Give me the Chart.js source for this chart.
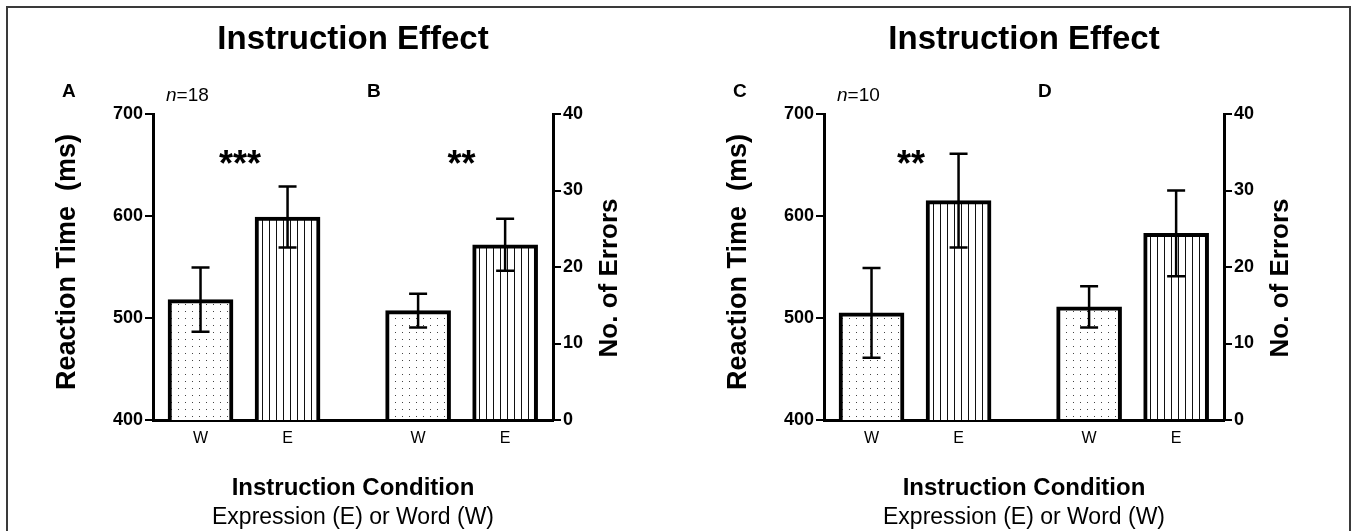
<!DOCTYPE html>
<html>
<head>
<meta charset="utf-8">
<script src="https://cdn.jsdelivr.net/npm/chart.js@4.4.1/dist/chart.umd.min.js"></script>
<style>
  html, body { margin: 0; padding: 0; background: #fff; overflow: hidden; }
  #page { position: relative; width: 1354px; height: 531px; }
  #frame { position: absolute; left: 6px; top: 6px; width: 1345px; height: 600px;
           border: 2px solid #3a3a3a; box-sizing: border-box; }
  canvas { position: absolute; top: 0; }
</style>
</head>
<body>
<div id="page">
  <div id="frame"></div>
  <canvas id="left" width="677" height="531" style="left:0px;width:677px;height:531px"></canvas>
  <canvas id="right" width="677" height="531" style="left:671px;width:677px;height:531px"></canvas>
</div>
<script>
// categories and slot order along the x axis (W/E for RT, then W/E for errors)
const conditions = ['W', 'E', 'W', 'E'];
const slots = [0, 1, 2.5, 3.5];
const rtTicks = [400, 500, 600, 700];
const errTicks = [0, 10, 20, 30, 40];

// n = 18
const rtMean18 = [518, 599];
const rtSem18 = [31.5, 30];
const errMean18 = [14.3, 22.9];
const errSem18 = [2.2, 3.4];

// n = 10
const rtMean10 = [505, 615];
const rtSem10 = [44, 46];
const errMean10 = [14.8, 24.4];
const errSem10 = [2.7, 5.6];

const FONT = '"Liberation Sans", Arial, sans-serif';

// fill patterns: dots for Word, vertical lines for Expression
function dotPattern() {
  const c = document.createElement('canvas');
  c.width = 7; c.height = 7;
  const g = c.getContext('2d');
  g.fillStyle = '#fff'; g.fillRect(0, 0, 7, 7);
  g.fillStyle = '#444'; g.fillRect(3, 3, 1, 1);
  return g.createPattern(c, 'repeat');
}
function stripePattern() {
  const c = document.createElement('canvas');
  c.width = 7; c.height = 4;
  const g = c.getContext('2d');
  g.fillStyle = '#fff'; g.fillRect(0, 0, 7, 4);
  g.fillStyle = '#111'; g.fillRect(3, 0, 1, 4);
  return g.createPattern(c, 'repeat');
}

function makePanel(id, p) {
  const ctx = document.getElementById(id).getContext('2d');
  const fills = [dotPattern(), stripePattern()];

  const decor = {
    id: 'decor',
    afterDatasetsDraw(chart) {
      const c = chart.ctx;
      c.save();
      c.strokeStyle = '#000';
      c.lineWidth = 2.5;
      chart.data.datasets.forEach((ds, d) => {
        const scale = chart.scales[ds.yAxisID];
        chart.getDatasetMeta(d).data.forEach((bar, i) => {
          const hi = scale.getPixelForValue(ds.data[i].y + ds.sem[i]);
          const lo = scale.getPixelForValue(ds.data[i].y - ds.sem[i]);
          c.beginPath();
          c.moveTo(bar.x, hi); c.lineTo(bar.x, lo);
          c.moveTo(bar.x - 9, hi); c.lineTo(bar.x + 9, hi);
          c.moveTo(bar.x - 9, lo); c.lineTo(bar.x + 9, lo);
          c.stroke();
        });
      });
      c.restore();
    },
    afterDraw(chart) {
      const c = chart.ctx;
      const a = chart.chartArea;
      const xs = chart.scales.x;
      const mid = (a.left + a.right) / 2;
      c.save();
      c.fillStyle = '#000';
      c.textAlign = 'center';
      c.textBaseline = 'alphabetic';

      c.font = 'bold 33px ' + FONT;
      c.fillText('Instruction Effect', mid, 49);

      c.font = 'bold 19px ' + FONT;
      c.textAlign = 'left';
      c.fillText(p.letters[0], a.left - 91, 97);
      c.fillText(p.letters[1], a.left + 214, 97);

      c.font = 'italic 19px ' + FONT;
      c.fillText('n', a.left + 13, 101);
      const nw = c.measureText('n').width;
      c.font = '19px ' + FONT;
      c.fillText('=' + p.n, a.left + 13 + nw, 101);

      c.textAlign = 'center';
      c.font = 'bold 36px ' + FONT;
      c.fillText(p.stars[0], (xs.getPixelForValue(slots[0]) + xs.getPixelForValue(slots[1])) / 2 - 4, 176);
      c.fillText(p.stars[1], (xs.getPixelForValue(slots[2]) + xs.getPixelForValue(slots[3])) / 2, 176);

      c.font = 'bold 24px ' + FONT;
      c.fillText('Instruction Condition', mid, 495);
      c.font = '23px ' + FONT;
      c.fillText('Expression (E) or Word (W)', mid, 524);

      c.textBaseline = 'middle';
      c.save();
      c.translate(a.left - 85, 262);
      c.rotate(-Math.PI / 2);
      c.font = 'bold 27px ' + FONT;
      c.fillText('Reaction Time  (ms)', 0, 0);
      c.restore();
      c.save();
      c.translate(a.right + 57, 278);
      c.rotate(-Math.PI / 2);
      c.font = 'bold 26px ' + FONT;
      c.fillText('No. of Errors', 0, 0);
      c.restore();
      c.restore();
    }
  };

  return new Chart(ctx, {
    type: 'bar',
    data: {
      datasets: [
        {
          label: 'Reaction Time',
          yAxisID: 'y',
          data: p.rtMean.map((v, i) => ({ x: slots[i], y: v })),
          sem: p.rtSem,
          backgroundColor: fills,
          borderColor: '#000',
          borderWidth: 4,
          borderSkipped: 'start',
          barThickness: 65,
          grouped: false
        },
        {
          label: 'No. of Errors',
          yAxisID: 'y1',
          data: p.errMean.map((v, i) => ({ x: slots[i + 2], y: v })),
          sem: p.errSem,
          backgroundColor: fills,
          borderColor: '#000',
          borderWidth: 4,
          borderSkipped: 'start',
          barThickness: 65,
          grouped: false
        }
      ]
    },
    options: {
      responsive: false,
      animation: false,
      events: [],
      layout: { padding: { left: 0, right: 0, top: 114, bottom: 0 } },
      plugins: { legend: { display: false }, tooltip: { enabled: false } },
      scales: {
        x: {
          type: 'linear',
          position: 'bottom',
          offset: false,
          min: -0.546,
          max: 4.05,
          afterFit: s => { s.height = 111; },
          afterBuildTicks: s => { s.ticks = slots.map(v => ({ value: v })); },
          grid: { display: false, drawTicks: false, offset: false },
          border: { display: true, color: '#000', width: 3 },
          ticks: {
            autoSkip: false, maxRotation: 0, padding: 9, color: '#000',
            font: { family: FONT, size: 16 },
            callback: (v, i) => conditions[i]
          }
        },
        y: {
          position: 'left',
          min: rtTicks[0],
          max: rtTicks[rtTicks.length - 1],
          afterFit: s => { s.width = 153; },
          afterBuildTicks: s => { s.ticks = rtTicks.map(v => ({ value: v })); },
          grid: { drawOnChartArea: false, drawTicks: true, tickLength: 8, color: '#000', lineWidth: 2 },
          border: { display: true, color: '#000', width: 3 },
          ticks: { padding: 2, color: '#000', font: { family: FONT, size: 18, weight: 'bold' } }
        },
        y1: {
          position: 'right',
          min: errTicks[0],
          max: errTicks[errTicks.length - 1],
          afterFit: s => { s.width = 677 - 553; },
          afterBuildTicks: s => { s.ticks = errTicks.map(v => ({ value: v })); },
          grid: { drawOnChartArea: false, drawTicks: true, tickLength: 8, color: '#000', lineWidth: 2 },
          border: { display: true, color: '#000', width: 3 },
          ticks: { padding: 2, color: '#000', font: { family: FONT, size: 18, weight: 'bold' } }
        }
      }
    },
    plugins: [decor]
  });
}

makePanel('left', {
  rtMean: rtMean18, rtSem: rtSem18, errMean: errMean18, errSem: errSem18,
  letters: ['A', 'B'], n: '18', stars: ['***', '**']
});
makePanel('right', {
  rtMean: rtMean10, rtSem: rtSem10, errMean: errMean10, errSem: errSem10,
  letters: ['C', 'D'], n: '10', stars: ['**', '']
});
</script>
</body>
</html>
